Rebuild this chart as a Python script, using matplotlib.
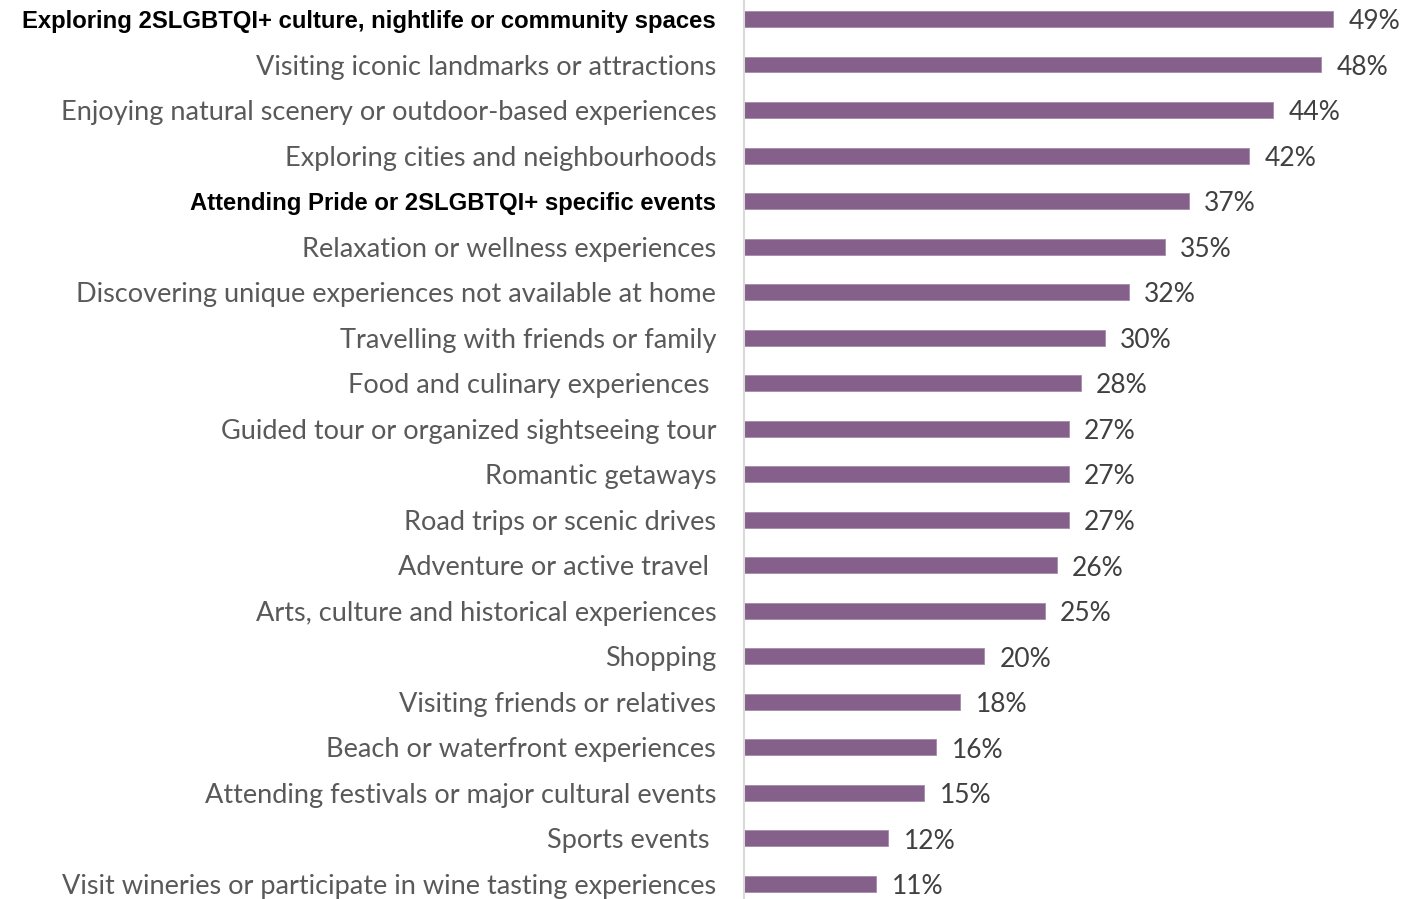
import matplotlib.pyplot as plt
import numpy as np

activities = [
    "Exploring 2SLGBTQI+ culture, nightlife or community spaces",
    "Visiting iconic landmarks or attractions",
    "Enjoying natural scenery or outdoor-based experiences",
    "Exploring cities and neighbourhoods",
    "Attending Pride or 2SLGBTQI+ specific events",
    "Relaxation or wellness experiences",
    "Discovering unique experiences not available at home",
    "Travelling with friends or family",
    "Food and culinary experiences ",
    "Guided tour or organized sightseeing tour",
    "Romantic getaways",
    "Road trips or scenic drives",
    "Adventure or active travel ",
    "Arts, culture and historical experiences",
    "Shopping",
    "Visiting friends or relatives",
    "Beach or waterfront experiences",
    "Attending festivals or major cultural events",
    "Sports events ",
    "Visit wineries or participate in wine tasting experiences",
]
pct = [49, 48, 44, 42, 37, 35, 32, 30, 28, 27, 27, 27, 26, 25, 20, 18, 16, 15, 12, 11]
highlight = [0, 4]  # 2SLGBTQI+ specific items

bar_color = "#84608A"

fig = plt.figure(figsize=(14.12, 8.99), dpi=100)
ax = fig.add_axes([744 / 1412, 0, 1 - 744 / 1412, 1])

y = np.arange(len(activities))
ax.barh(y, pct, height=0.35, color=bar_color, edgecolor="#A58AAA", linewidth=0.6)

ax.set_xlim(0, (1412 - 744) / 12.02)
ax.set_ylim(19.33, -0.417)

for yi, v in zip(y, pct):
    ax.text(v + 1.3, yi + 0.06, f"{v}%", va="center", ha="left",
            fontsize=19, family="Lato", color="#404040")

ax.set_yticks(y)
ax.set_yticklabels(activities)
ax.tick_params(axis="y", length=0, pad=20)
for i, lab in enumerate(ax.get_yticklabels()):
    if i in highlight:
        lab.set_family("Liberation Sans")
        lab.set_fontweight("bold")
        lab.set_fontsize(17.2)
        lab.set_color("black")
    else:
        lab.set_family("Lato")
        lab.set_fontsize(19.5)
        lab.set_color("#595959")

ax.set_xticks([])
for s in ["top", "right", "bottom"]:
    ax.spines[s].set_visible(False)
ax.spines["left"].set_color("#D9D9D9")
ax.spines["left"].set_linewidth(1.5)

fig.savefig("out.png", dpi=100)
